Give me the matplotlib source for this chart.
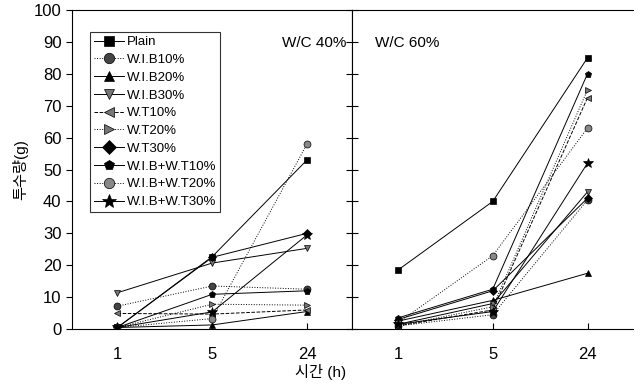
import matplotlib
matplotlib.use("Agg")
import matplotlib.pyplot as plt

plt.rcParams['font.family'] = ['Liberation Sans', 'Noto Sans CJK KR', 'DejaVu Sans']

hours = ['1', '5', '24']
names = ['Plain', 'W.I.B10%', 'W.I.B20%', 'W.I.B30%', 'W.T10%', 'W.T20%',
         'W.T30%', 'W.I.B+W.T10%', 'W.I.B+W.T20%', 'W.I.B+W.T30%']

# 투수량(g), W/C 40%
wc40_plain = [0.5, 22.7, 53.0]
wc40_wib10 = [7.2, 13.5, 12.5]
wc40_wib20 = [0.5, 1.3, 5.5]
wc40_wib30 = [11.4, 20.7, 25.3]
wc40_wt10 = [4.9, 4.7, 6.0]
wc40_wt20 = [0.5, 7.8, 7.5]
wc40_wt30 = [0.5, 22.5, 30.0]
wc40_wibwt10 = [0.5, 10.9, 12.0]
wc40_wibwt20 = [0.5, 3.3, 58.0]
wc40_wibwt30 = [0.5, 5.4, 29.5]

# 투수량(g), W/C 60%
wc60_plain = [18.5, 40.0, 85.0]
wc60_wib10 = [1.0, 4.5, 40.5]
wc60_wib20 = [2.5, 9.0, 17.5]
wc60_wib30 = [1.5, 8.0, 43.0]
wc60_wt10 = [1.0, 6.0, 72.5]
wc60_wt20 = [1.0, 7.0, 75.0]
wc60_wt30 = [3.0, 12.0, 41.0]
wc60_wibwt10 = [3.5, 12.5, 80.0]
wc60_wibwt20 = [2.0, 23.0, 63.0]
wc60_wibwt30 = [1.5, 5.5, 52.0]

wc40 = [wc40_plain, wc40_wib10, wc40_wib20, wc40_wib30, wc40_wt10,
        wc40_wt20, wc40_wt30, wc40_wibwt10, wc40_wibwt20, wc40_wibwt30]
wc60 = [wc60_plain, wc60_wib10, wc60_wib20, wc60_wib30, wc60_wt10,
        wc60_wt20, wc60_wt30, wc60_wibwt10, wc60_wibwt20, wc60_wibwt30]

markers = ['s', 'o', '^', 'v', '<', '>', 'D', 'p', 'o', '*']
faces = ['black', '#444444', 'black', '#777777', '#777777', '#777777',
         'black', 'black', '#888888', 'black']
styles = ['-', ':', '-', '-', '--', ':', '-', '-', ':', '-']
sizes = [4.5, 5, 5, 5, 5, 5, 4.5, 5, 5, 7]

fig, (ax1, ax2) = plt.subplots(1, 2, sharey=True, figsize=(6.41, 3.84), dpi=100)
fig.subplots_adjust(left=0.1123, right=0.9875, bottom=0.143, top=0.974, wspace=0)

x = range(len(hours))
for ax, data in ((ax1, wc40), (ax2, wc60)):
    for i, vals in enumerate(data):
        ax.plot(x, vals, linestyle=styles[i], color='black', linewidth=0.7,
                marker=markers[i], markersize=sizes[i], markerfacecolor=faces[i],
                markeredgecolor='black', markeredgewidth=0.5, label=names[i])
    ax.set_xlim(-0.48, 2.48)
    ax.set_xticks(list(x))
    ax.set_xticklabels(hours)
    ax.tick_params(axis='x', direction='in', length=4, labelsize=12, pad=13)

ax1.set_ylim(0, 100)
ax1.set_yticks(range(0, 101, 10))
ax1.tick_params(axis='y', direction='out', length=4, labelsize=12)
ax1.yaxis.set_ticks_position('both')
for t in ax1.yaxis.get_ticklines()[1::2]:
    t.set_marker(matplotlib.lines.TICKLEFT)
ax2.tick_params(axis='y', left=True, direction='in', length=4, labelleft=False)
ax2.spines['right'].set_visible(False)

ax1.text(0.979, 0.897, 'W/C 40%', transform=ax1.transAxes, ha='right',
         va='center', fontsize=11)
ax2.text(0.079, 0.897, 'W/C 60%', transform=ax2.transAxes, ha='left',
         va='center', fontsize=11)

leg = ax1.legend(loc='upper left', bbox_to_anchor=(0.064, 0.931), fontsize=9.5,
                 handlelength=2.3, labelspacing=0.42, borderpad=0.3,
                 handletextpad=0.2, borderaxespad=0, fancybox=False,
                 markerscale=1.5)
leg.get_frame().set_edgecolor('black')
leg.get_frame().set_linewidth(0.8)

ax1.set_ylabel('투수량(g)', fontsize=11)
fig.text(0.5, 0.03, '시간 (h)', ha='center', va='center', fontsize=11)

fig.savefig('out.png', dpi=100)
